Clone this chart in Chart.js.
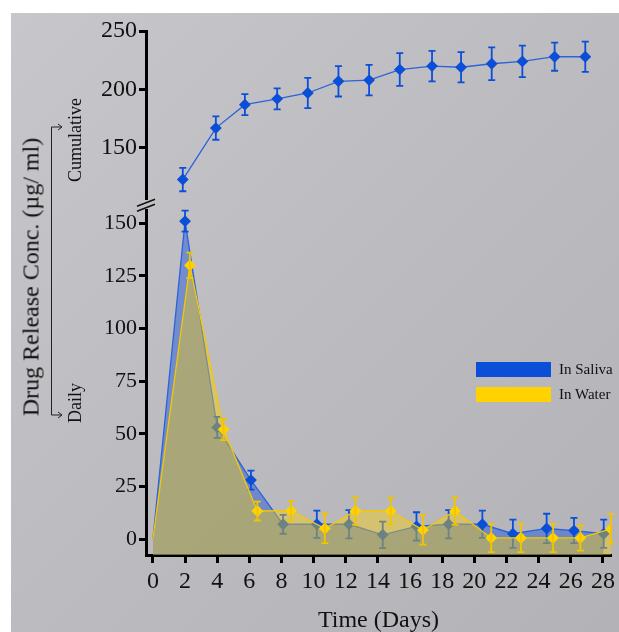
<!DOCTYPE html>
<html>
<head>
<meta charset="utf-8">
<script src="https://cdn.jsdelivr.net/npm/chart.js@4"></script>
<style>
  body { margin: 0; background: #fff; width: 619px; height: 632px; overflow: hidden; position: relative; font-family: "Liberation Serif", serif; }
  #panel { position: absolute; left: 11px; top: 13px; width: 608px; height: 619px;
           background: linear-gradient(135deg, #c7c6ca 0%, #bcbbbf 50%, #b3b2b6 100%); }
  canvas { position: absolute; left: 0; top: 0; }
  #topWrap { position: absolute; left: 0; top: 0; width: 619px; height: 215px; }
  #botWrap { position: absolute; left: 0; top: 195px; width: 619px; height: 437px; }
  .vlabel { position: absolute; transform: translate(-50%, -50%) rotate(-90deg); white-space: nowrap; color: #111; }
  #legend { position: absolute; left: 476px; top: 357px; font-size: 15px; color: #111; }
  #legend div { height: 25px; display: flex; align-items: center; }
  #legend span.box { display: inline-block; width: 75px; height: 15px; margin-right: 8px; }
</style>
</head>
<body>
<div id="panel"></div>
<div id="topWrap"><canvas id="CumulativeChart" width="619" height="215"></canvas></div>
<div id="botWrap"><canvas id="DailyChart" width="619" height="437"></canvas></div>

<div class="vlabel" style="left:31px; top:277px; font-size:24px;">Drug Release Conc. (µg/ ml)</div>
<div class="vlabel" style="left:75px; top:140px; font-size:18px;">Cumulative</div>
<div class="vlabel" style="left:75px; top:403px; font-size:18px;">Daily</div>
<svg style="position:absolute; left:0; top:0;" width="120" height="450">
  <path d="M62 127 H51.5 V415 H62" fill="none" stroke="#222" stroke-width="1"/>
  <path d="M58 124 L62 127 L58 130" fill="none" stroke="#222" stroke-width="1"/>
  <path d="M58 412 L62 415 L58 418" fill="none" stroke="#222" stroke-width="1"/>
</svg>
<div id="legend"></div>

<script>
// cumulative release (top panel)
const cumDays = [1.85, 3.9, 5.7, 7.7, 9.6, 11.5, 13.4, 15.3, 17.3, 19.1, 21.0, 22.9, 24.9, 26.8];
const cumSaliva = [123, 167, 187, 192, 197, 207, 208, 217, 220, 219, 222, 224, 228, 228];
const cumSalivaErr = [10, 10, 9, 9, 13, 13, 13, 14, 13, 13, 14, 13.5, 12, 13];

// daily release (bottom panel)
const salivaDays = [0, 2, 4, 6.1, 8.1, 10.2, 12.2, 14.3, 16.4, 18.4, 20.5, 22.4, 24.5, 26.2, 28.05];
const dailySaliva = [0, 151, 53, 28, 7, 7, 7, 2, 6, 7, 7, 2.5, 5, 4, 2.5];
const dailySalivaErr = [0, 5, 5, 4.5, 4.5, 6.5, 6.7, 6.3, 6.7, 6.7, 6.5, 6.7, 7, 6, 6.7];

const waterDays = [0, 2.3, 4.4, 6.5, 8.6, 10.7, 12.6, 14.8, 16.8, 18.8, 21.05, 22.9, 24.9, 26.6, 28.5];
const dailyWater = [0, 130, 52, 13.3, 13.5, 5, 13.3, 13.3, 4.3, 13.3, 0.5, 0.5, 0.5, 0.5, 4.8];
const dailyWaterErr = [0, 6, 5, 4.5, 4.5, 7, 6.5, 6.3, 7, 6.5, 6.7, 6.7, 6.7, 6, 7];

const seriesLabels = ['In Saliva', 'In Water'];
const xTicks = [0, 2, 4, 6, 8, 10, 12, 14, 16, 18, 20, 22, 24, 26, 28];
const cumTicks = [150, 200, 250];
const dailyTicks = [0, 25, 50, 75, 100, 125, 150];

const BLUE = '#0b4fd8';
const YELLOW = '#ffd200';
const SERIF = '"Liberation Serif", "Times New Roman", serif';

function toPoints(xs, ys) {
  return xs.map((x, i) => ({ x: x, y: ys[i] }));
}

// draws vertical error bars for each dataset that has an "errors" array
const errorBars = {
  id: 'errorBars',
  afterDatasetDraw(chart, args) {
    const ds = chart.data.datasets[args.index];
    if (!ds.errors) return;
    const yScale = chart.scales[args.meta.yAxisID];
    const ctx = chart.ctx;
    ctx.save();
    ctx.strokeStyle = ds.errorColor;
    ctx.lineWidth = 1.8;
    args.meta.data.forEach((pt, i) => {
      const e = ds.errors[i];
      if (!e) return;
      const v = ds.data[i].y;
      const yTop = yScale.getPixelForValue(v + e);
      const yBot = yScale.getPixelForValue(v - e);
      ctx.beginPath();
      ctx.moveTo(pt.x, yTop); ctx.lineTo(pt.x, yBot);
      ctx.moveTo(pt.x - 3.5, yTop); ctx.lineTo(pt.x + 3.5, yTop);
      ctx.moveTo(pt.x - 3.5, yBot); ctx.lineTo(pt.x + 3.5, yBot);
      ctx.stroke();
    });
    ctx.restore();
  }
};

// the // mark where the two y axes meet
const axisBreak = {
  id: 'axisBreak',
  afterDraw(chart) {
    const ctx = chart.ctx;
    const x = chart.chartArea.left;
    const y = chart.chartArea.top;
    ctx.save();
    ctx.strokeStyle = '#111';
    ctx.lineWidth = 1.5;
    ctx.beginPath();
    ctx.moveTo(x - 9, y - 4); ctx.lineTo(x + 9, y - 11);
    ctx.moveTo(x - 9, y + 1); ctx.lineTo(x + 9, y - 6);
    ctx.stroke();
    ctx.restore();
  }
};

function xAxis(show) {
  const axis = {
    type: 'linear',
    min: -0.43,
    max: 28.5,
    display: show,
    afterBuildTicks: s => { s.ticks = xTicks.map(v => ({ value: v })); },
    border: { color: '#000', width: 3 },
    grid: { drawOnChartArea: false, color: '#000', lineWidth: 3, tickLength: 8 },
    ticks: { color: '#111', font: { family: SERIF, size: 24 }, padding: 4, maxRotation: 0, autoSkip: false },
    title: { display: true, text: 'Time (Days)', color: '#111', font: { family: SERIF, size: 24 }, padding: { top: 0, bottom: -3 } }
  };
  if (show) axis.afterFit = s => { s.height = 77; };
  return axis;
}

function yAxis(min, max, ticks, fontSize) {
  return {
    type: 'linear',
    min: min,
    max: max,
    afterBuildTicks: s => { s.ticks = ticks.map(v => ({ value: v })); },
    afterFit: s => { s.width = 146; },
    border: { color: '#000', width: 3 },
    grid: { drawOnChartArea: false, color: '#000', lineWidth: 3, tickLength: 7 },
    ticks: { color: '#111', font: { family: SERIF, size: fontSize }, padding: 2 }
  };
}

Chart.defaults.animation = false;

new Chart(document.getElementById('CumulativeChart'), {
  type: 'line',
  data: {
    datasets: [{
      label: seriesLabels[0],
      data: toPoints(cumDays, cumSaliva),
      errors: cumSalivaErr,
      errorColor: BLUE,
      borderColor: '#2a63dc',
      borderWidth: 1.3,
      pointStyle: 'rectRot',
      pointRadius: 5,
      pointBackgroundColor: BLUE,
      pointBorderColor: BLUE,
      fill: false,
      tension: 0
    }]
  },
  options: {
    responsive: false,
    layout: { padding: { left: 0, right: 6, top: 31, bottom: 12 } },
    plugins: { legend: { display: false }, tooltip: { enabled: false } },
    scales: { x: xAxis(false), y: yAxis(106.7, 250, cumTicks, 24) }
  },
  plugins: [errorBars]
});

new Chart(document.getElementById('DailyChart'), {
  type: 'line',
  data: {
    datasets: [{
      label: seriesLabels[0],
      data: toPoints(salivaDays, dailySaliva),
      errors: dailySalivaErr,
      errorColor: BLUE,
      order: 2,
      borderColor: '#2a63dc',
      borderWidth: 1.3,
      backgroundColor: 'rgba(20, 80, 220, 0.45)',
      fill: 'start',
      pointStyle: 'rectRot',
      pointRadius: c => c.dataIndex === 0 ? 0 : 5,
      pointBackgroundColor: BLUE,
      pointBorderColor: BLUE,
      tension: 0
    }, {
      label: seriesLabels[1],
      data: toPoints(waterDays, dailyWater),
      errors: dailyWaterErr,
      errorColor: '#f2c400',
      order: 1,
      borderColor: '#f5c800',
      borderWidth: 1.3,
      backgroundColor: 'rgba(255, 210, 0, 0.4)',
      fill: 'start',
      pointStyle: 'rectRot',
      pointRadius: c => c.dataIndex === 0 ? 0 : 5,
      pointBackgroundColor: YELLOW,
      pointBorderColor: YELLOW,
      tension: 0
    }]
  },
  options: {
    responsive: false,
    layout: { padding: { left: 0, right: 6, top: 15, bottom: 0 } },
    plugins: { legend: { display: false }, tooltip: { enabled: false } },
    scales: { x: xAxis(true), y: yAxis(-7.6, 156.2, dailyTicks, 22) }
  },
  plugins: [errorBars, axisBreak]
});

// legend built from the series labels
const legendColors = [BLUE, YELLOW];
document.getElementById('legend').innerHTML = seriesLabels.map((l, i) =>
  `<div><span class="box" style="background:${legendColors[i]}"></span>${l}</div>`).join('');
</script>
</body>
</html>
